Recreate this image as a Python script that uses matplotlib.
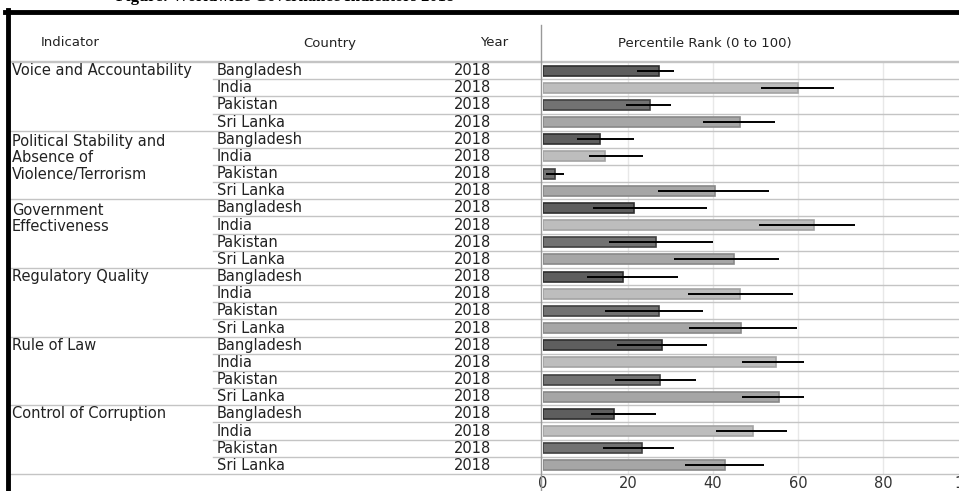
import matplotlib.pyplot as plt
import matplotlib.transforms as mtransforms

indicators = ["Voice and Accountability",
              "Political Stability and\nAbsence of\nViolence/Terrorism",
              "Government\nEffectiveness",
              "Regulatory Quality",
              "Rule of Law",
              "Control of Corruption"]
countries = ["Bangladesh", "India", "Pakistan", "Sri Lanka"]
year = "2018"

# percentile rank, lower and upper bound of the error bar, one row per indicator
rank = [[27.3, 59.9, 25.2, 46.4],
        [13.5, 14.5, 2.8, 40.4],
        [21.3, 63.8, 26.6, 45.0],
        [18.8, 46.4, 27.3, 46.7],
        [28.0, 54.9, 27.6, 55.6],
        [16.7, 49.3, 23.4, 42.9]]
lower = [[22.0, 51.4, 19.5, 37.6],
         [7.9, 10.8, 0.7, 27.1],
         [11.8, 50.8, 15.6, 30.8],
         [10.4, 34.0, 14.6, 34.4],
         [17.5, 46.8, 17.0, 46.8],
         [11.3, 40.7, 14.2, 33.4]]
upper = [[30.8, 68.4, 30.2, 54.6],
         [21.3, 23.5, 4.9, 53.2],
         [38.7, 73.4, 40.1, 55.6],
         [31.8, 58.9, 37.6, 59.8],
         [38.7, 61.3, 36.1, 61.3],
         [26.6, 57.4, 30.8, 52.1]]
ticks = [0, 20, 40, 60, 80, 100]

bar_colors = {"Bangladesh": "#5e5e5e", "India": "#bdbdbd",
              "Pakistan": "#727272", "Sri Lanka": "#a6a6a6"}
edge_colors = {"Bangladesh": "#2e2e2e", "India": "#a3a3a3",
               "Pakistan": "#404040", "Sri Lanka": "#888888"}

W, H = 959, 491
plt.rcParams['font.family'] = ['DejaVu Sans']
fig = plt.figure(figsize=(W / 100, H / 100), dpi=100)

top_px, bot_px = 62, 474
x0_px, x100_px = 543, 968
ax = fig.add_axes([x0_px / W, 1 - bot_px / H, (x100_px - x0_px) / W, (bot_px - top_px) / H])
n_rows = len(indicators) * len(countries)
ax.set_xlim(0, 100)
ax.set_ylim(n_rows, 0)
for s in ax.spines.values():
    s.set_visible(False)
ax.set_yticks([])
ax.set_xticks(ticks)
ax.set_xticklabels([str(t) for t in ticks], fontsize=10.5, color="#333333")
ax.tick_params(axis='x', length=0, pad=1.5)
for t in ticks[1:]:
    ax.axvline(t, color="#e8e8e8", lw=1, zorder=0)

blend = mtransforms.blended_transform_factory(fig.transFigure, ax.transData)
line_kw = dict(transform=blend, clip_on=False, color="#c4c4c4", lw=1)
body = dict(transform=blend, fontsize=10.5, color="#222222")

row = 0
for g, name in enumerate(indicators):
    ax.plot([9 / W, 1], [row, row], **line_kw)
    if "\n" in name:
        ax.text(12 / W, row + 0.2, name, va='top', ha='left', linespacing=1.1, **body)
    else:
        ax.text(12 / W, row + 0.5, name, va='center', ha='left', **body)
    for c, country in enumerate(countries):
        y = row + 0.5
        if c > 0:
            ax.plot([213 / W, 1], [row, row], **line_kw)
        ax.text(217 / W, y, country, va='center', ha='left', **body)
        ax.text(491 / W, y, year, va='center', ha='right', **body)
        ax.barh(y, rank[g][c], height=0.58, color=bar_colors[country],
                edgecolor=edge_colors[country], lw=1.2, zorder=2)
        ax.plot([lower[g][c], upper[g][c]], [y, y], color="black", lw=1.4,
                zorder=3, solid_capstyle='butt')
        row += 1
ax.plot([9 / W, 1], [n_rows, n_rows], **line_kw)

# header
fig.add_artist(plt.Line2D([9 / W, 1], [1 - 61 / H, 1 - 61 / H], color="#c4c4c4", lw=1))
fig.add_artist(plt.Line2D([541 / W, 541 / W], [0, 1 - 25 / H], color="#999999", lw=1))
hy = 1 - 43 / H
fig.text(70 / W, hy, "Indicator", ha='center', va='center', fontsize=9.5, color="#222222")
fig.text(330 / W, hy, "Country", ha='center', va='center', fontsize=9.5, color="#222222")
fig.text(494 / W, hy, "Year", ha='center', va='center', fontsize=9.5, color="#222222")
fig.text(705 / W, hy, "Percentile Rank (0 to 100)", ha='center', va='center',
         fontsize=9.5, color="#222222")

# frame and the caption cut off at the top of the picture
fig.add_artist(plt.Line2D([5 / W, 1], [1 - 11.5 / H, 1 - 11.5 / H], color="black", lw=3.5))
fig.add_artist(plt.Line2D([7.5 / W, 7.5 / W], [0, 1 - 10 / H], color="black", lw=3.5))
fig.text(285 / W, 1 - 1 / H, "Figure: Worldwide Governance Indicators 2018",
         ha='center', va='baseline', fontsize=12, fontweight='bold',
         family='Liberation Serif')

fig.savefig("out.png", dpi=100)
